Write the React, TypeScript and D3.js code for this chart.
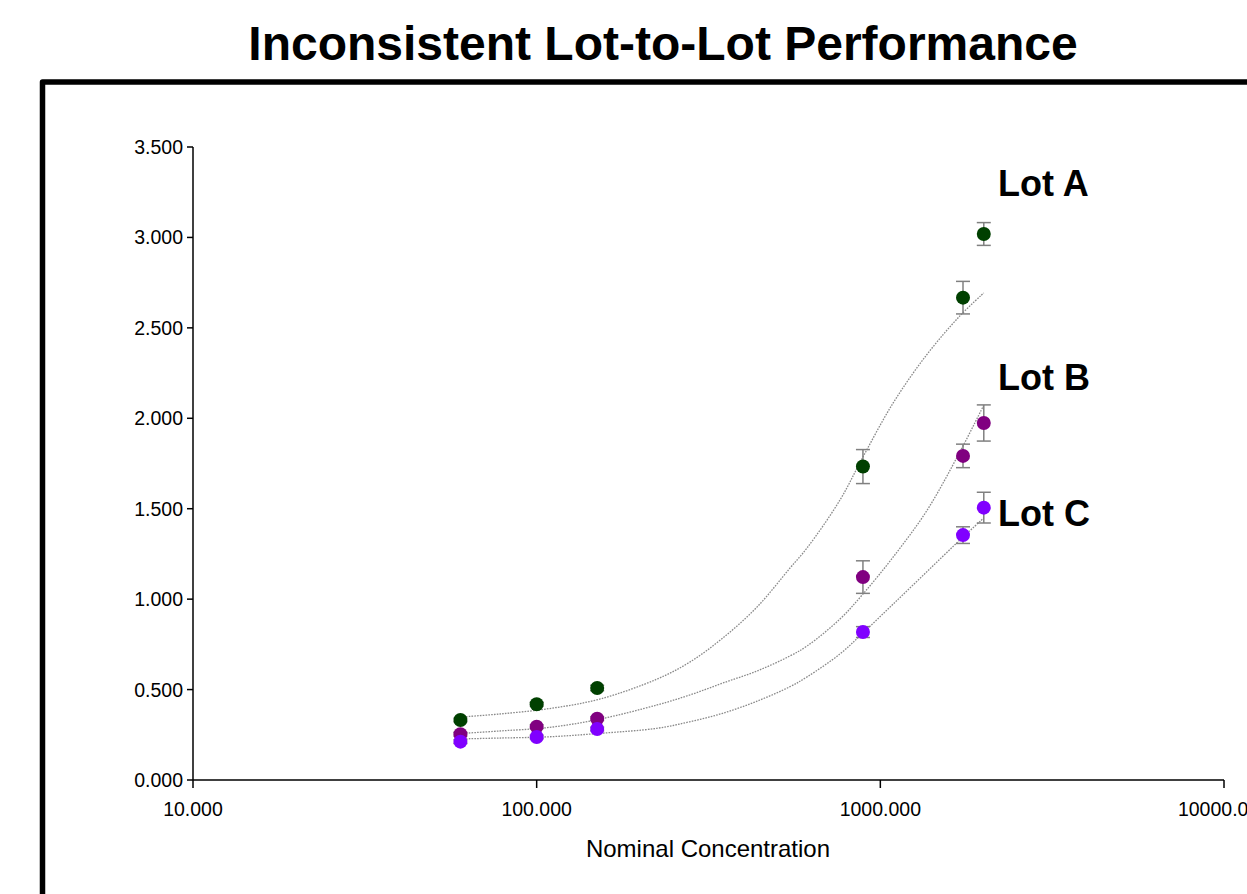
import React from "react";
import * as d3 from "d3";

// ---- data ----
const conc = [60, 100, 150, 890, 1740, 2000];
const lotA = [0.332, 0.419, 0.509, 1.733, 2.667, 3.019];
const lotB = [0.253, 0.295, 0.339, 1.122, 1.792, 1.974];
const lotC = [0.212, 0.238, 0.282, 0.818, 1.354, 1.506];
const errA = [0.01, 0.01, 0.015, 0.094, 0.09, 0.063];
const errB = [0.01, 0.01, 0.01, 0.09, 0.065, 0.1];
const errC = [0.01, 0.01, 0.01, 0.03, 0.046, 0.085];

// fitted curves
const fitConc = [60, 78, 109, 153, 224, 279, 348, 438, 546, 612, 763, 890, 1090, 1363, 1704, 2000];
const fitA = [0.348, 0.365, 0.395, 0.448, 0.558, 0.652, 0.785, 0.957, 1.172, 1.283, 1.548, 1.786, 2.085, 2.35, 2.566, 2.693];
const fitB = [0.257, 0.271, 0.291, 0.337, 0.415, 0.47, 0.536, 0.603, 0.686, 0.741, 0.89, 1.028, 1.233, 1.487, 1.814, 2.073];
const fitC = [0.227, 0.232, 0.239, 0.258, 0.286, 0.322, 0.369, 0.436, 0.516, 0.57, 0.697, 0.813, 0.973, 1.15, 1.327, 1.449];

const lotNames = ["Lot A", "Lot B", "Lot C"];
const lotColors = ["#004000", "#800080", "#8000ff"];
const labelPos = [3.3, 2.23, 1.476];
const yTicks = [0, 0.5, 1, 1.5, 2, 2.5, 3, 3.5];
const xTicks = [10, 100, 1000, 10000];
const title = "Inconsistent Lot-to-Lot Performance";
const xTitle = "Nominal Concentration";

const W = 1247;
const H = 894;

export default function App() {
  const x = d3.scaleLog().domain([10, 10000]).range([193, 1224]);
  const y = d3.scaleLinear().domain([0, 3.5]).range([780, 147]);

  const series = [
    { name: lotNames[0], vals: lotA, err: errA, fit: fitA, color: lotColors[0] },
    { name: lotNames[1], vals: lotB, err: errB, fit: fitB, color: lotColors[1] },
    { name: lotNames[2], vals: lotC, err: errC, fit: fitC, color: lotColors[2] },
  ];

  const line = d3
    .line<number>()
    .x((_, i) => x(fitConc[i]))
    .y((d) => y(d))
    .curve(d3.curveCatmullRom.alpha(0.5));

  const font = "'Liberation Sans', Arial, Helvetica, sans-serif";

  return (
    <svg
      width={W}
      height={H}
      style={{ position: "absolute", left: 0, top: 0, background: "#fff" }}
      fontFamily={font}
    >
      <rect x={0} y={0} width={W} height={H} fill="#fff" />
      {/* title */}
      <text x={663} y={60} textAnchor="middle" fontSize={48} fontWeight="bold" fill="#000">
        {title}
      </text>
      {/* frame */}
      <path
        d={`M42.5,${H + 20} V82 H${W + 20}`}
        fill="none"
        stroke="#000"
        strokeWidth={5.5}
        strokeLinejoin="round"
      />

      {/* axes */}
      <line x1={193} x2={193} y1={y(3.5)} y2={y(0)} stroke="#000" strokeWidth={1.5} />
      <line x1={193} x2={1224} y1={y(0)} y2={y(0)} stroke="#000" strokeWidth={1.5} />
      {yTicks.map((t) => (
        <g key={"y" + t}>
          <line x1={187} x2={193} y1={y(t)} y2={y(t)} stroke="#000" strokeWidth={1.5} />
          <text x={183} y={y(t)} dy="0.36em" textAnchor="end" fontSize={19.5} fill="#000">
            {d3.format(".3f")(t)}
          </text>
        </g>
      ))}
      {xTicks.map((t) => (
        <g key={"x" + t}>
          <line x1={x(t)} x2={x(t)} y1={780} y2={788} stroke="#000" strokeWidth={1.5} />
          <text x={x(t)} y={816} textAnchor="middle" fontSize={19.5} fill="#000">
            {d3.format(".3f")(t)}
          </text>
        </g>
      ))}
      <text x={708} y={857} textAnchor="middle" fontSize={24} fill="#000">
        {xTitle}
      </text>

      {/* fitted curves */}
      {series.map((s) => (
        <path
          key={"fit" + s.name}
          d={line(s.fit) || ""}
          fill="none"
          stroke="#8a8a8a"
          strokeWidth={1.3}
          strokeDasharray="1.6,1.2"
        />
      ))}

      {/* error bars */}
      {series.map((s) =>
        s.vals.map((v, i) => {
          const cx = x(conc[i]);
          const y1 = y(v + s.err[i]);
          const y2 = y(v - s.err[i]);
          return (
            <g key={"e" + s.name + i} stroke="#808080" strokeWidth={1.5}>
              <line x1={cx} x2={cx} y1={y1} y2={y2} />
              <line x1={cx - 7} x2={cx + 7} y1={y1} y2={y1} />
              <line x1={cx - 7} x2={cx + 7} y1={y2} y2={y2} />
            </g>
          );
        })
      )}

      {/* points */}
      {series.map((s) =>
        s.vals.map((v, i) => (
          <circle key={"p" + s.name + i} cx={x(conc[i])} cy={y(v)} r={7} fill={s.color} />
        ))
      )}

      {/* lot labels */}
      {series.map((s, i) => (
        <text
          key={"l" + s.name}
          x={998}
          y={y(labelPos[i])}
          dy="0.36em"
          fontSize={36}
          fontWeight="bold"
          fill="#000"
        >
          {s.name}
        </text>
      ))}
    </svg>
  );
}
